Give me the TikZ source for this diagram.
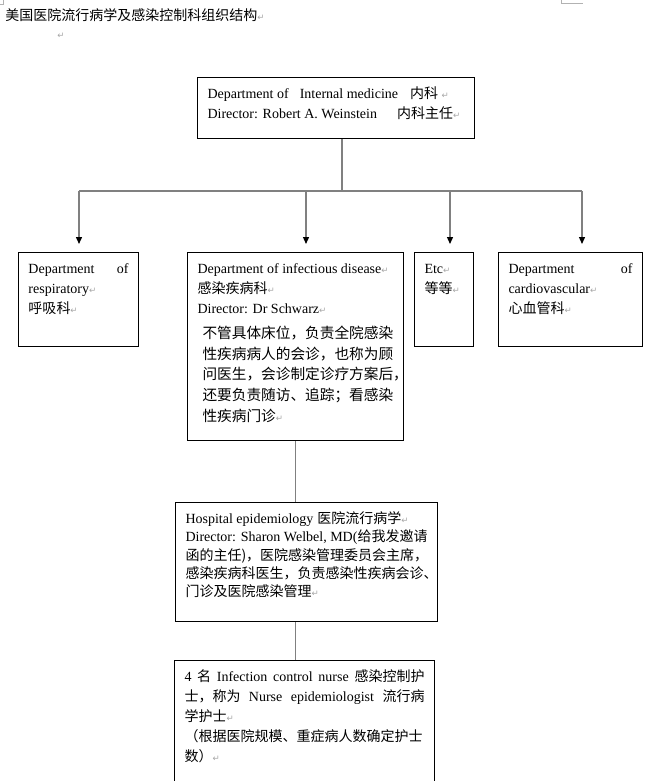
\documentclass[tikz,border=0pt]{standalone}
\usepackage{fontspec}
\setmainfont{Liberation Serif}
\newfontfamily\cjk{Noto Sans CJK SC}
\newfontfamily\symb{DejaVu Sans}
\usetikzlibrary{arrows.meta}

\newdimen\unitpx \unitpx=0.75pt
\newcommand\zh[1]{{\cjk #1}}
\newcommand\rt{{\symb\fontsize{6.5}{6.5}\selectfont\color{gray!70}↵}}
\newcommand\jline[1]{\makebox[\linewidth][s]{#1}}
\newcommand\boxtext[3]{\parbox[t][#2\unitpx][t]{#1\unitpx}{\rule{0pt}{14\unitpx}#3}}

\begin{document}
\begin{tikzpicture}[x=0.75pt,y=-0.75pt,font=\fontsize{10.5}{15}\selectfont,
    box/.style={draw,line width=0.75pt,anchor=north west,inner xsep=7.5pt,inner ysep=5.25pt},
    link/.style={draw=gray,line width=1pt},
    arr/.style={link,-{Triangle[length=5.25pt,width=4.5pt,color=black]},shorten >=6pt}]
  \useasboundingbox (0,0) rectangle (651,781);
  \clip (0,0) rectangle (651,781);

  % page marks and heading
  \draw[gray!60,line width=0.6pt] (3,0) -- (3,4) -- (0,4);
  \draw[gray!60,line width=0.6pt] (561,0) -- (561,3) -- (583,3);
  \node[anchor=base west,inner sep=0] (title) at (5,21) {\zh{美国医院流行病学及感染控制科组织结构}\rt};
  \node[anchor=base west,inner sep=0] (blank) at (57,39) {\rt};

  % boxes
  \node[box] (dept) at (197,77) {\boxtext{257}{47}{%
    Department of\hspace{11\unitpx}Internal medicine\hspace{12\unitpx}\zh{内科} \rt\\
    Director: Robert A. Weinstein\hspace{20\unitpx}\zh{内科主任}\rt}};
  \node[box] (resp) at (18,252) {\boxtext{100}{80}{%
    Department\hfill of\\ respiratory\rt\\ \zh{呼吸科}\rt}};
  \node[box] (infect) at (187,252) {\boxtext{196}{174}{%
    Department of infectious disease\rt\\ \zh{感染疾病科}\rt\\ Director: Dr Schwarz\rt\par
    \vspace{4\unitpx}
    {\fontsize{11}{15.6}\selectfont\cjk
    \hspace*{5\unitpx}不管具体床位，负责全院感染\\
    \hspace*{5\unitpx}性疾病病人的会诊，也称为顾\\
    \hspace*{5\unitpx}问医生，会诊制定诊疗方案后，\\
    \hspace*{5\unitpx}还要负责随访、追踪；看感染\\
    \hspace*{5\unitpx}性疾病门诊\rt\par}}};
  \node[box] (etc) at (414,252) {\boxtext{39}{80}{%
    Etc\rt\\ \zh{等等}\rt}};
  \node[box] (cardio) at (498,252) {\boxtext{124}{80}{%
    Department\hfill of\\ cardiovascular\rt\\ \zh{心血管科}\rt}};
  \node[box] (hosp) at (175,502) {\boxtext{242}{105}{\fontsize{10.5}{13.7}\selectfont
    Hospital epidemiology\hspace{4\unitpx}\zh{医院流行病学}\rt\\
    \jline{Director: Sharon Welbel, MD(\zh{给我发邀请}}\\
    \zh{函的主任)，医院感染管理委员会主席，}\\
    \zh{感染疾病科医生，负责感染性疾病会诊、}\\
    \zh{门诊及医院感染管理}\rt}};
  \node[box] (nurse) at (174,660) {\boxtext{240}{130}{%
    \jline{4 \zh{名} Infection control nurse \zh{感染控制护}}\\
    \jline{\zh{士，称为} Nurse epidemiologist \zh{流行病}}\\
    \zh{学护士}\rt\\
    \zh{（根据医院规模、重症病人数确定护士}\\
    \zh{数）}\rt}};

  % connectors
  \coordinate (bus) at (342,191);
  \coordinate (t1) at (79,191);
  \coordinate (t2) at (306,191);
  \coordinate (t3) at (450,191);
  \coordinate (t4) at (582,191);
  \draw[link] (bus |- dept.south) -- (bus);
  \draw[link] (t1) -- (t4);
  \draw[arr] (t1) -- (t1 |- resp.north);
  \draw[arr] (t2) -- (t2 |- infect.north);
  \draw[arr] (t3) -- (t3 |- etc.north);
  \draw[arr] (t4) -- (t4 |- cardio.north);
  \draw[link] (infect.south) -- (hosp.north -| infect.south);
  \draw[link] (hosp.south -| infect.south) -- (nurse.north -| infect.south);
\end{tikzpicture}
\end{document}
